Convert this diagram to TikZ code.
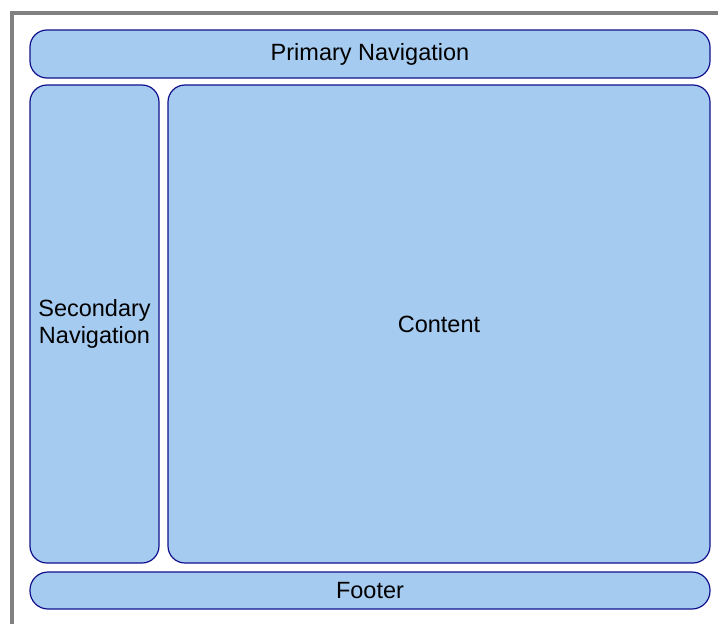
\documentclass[tikz,border=0pt]{standalone}
\usepackage{fontspec}
\setmainfont{Liberation Sans}
\definecolor{panelfill}{RGB}{166,203,240}
\definecolor{paneledge}{RGB}{16,16,140}
\definecolor{framegray}{RGB}{128,128,128}
\begin{document}
\begin{tikzpicture}[x=1pt,y=-1pt,
  panel/.style={draw=paneledge, fill=panelfill, line width=1.2pt,
    rounded corners=17pt, inner sep=0pt, outer sep=0pt,
    font=\fontsize{23.5}{27}\selectfont, align=center, text=black}]
  \useasboundingbox (0,0) rectangle (718,624);
  % page frame, open on the right and bottom
  \draw[framegray, line width=4pt] (12,630) -- (12,13) -- (730,13);
  % layout regions
  \node[panel, minimum width=680pt, minimum height=48pt] (primary) at (370,54) {Primary Navigation};
  \node[panel, minimum width=129pt, minimum height=478pt] (secondary) at (94.5,324) {Secondary\\Navigation};
  \node[panel, minimum width=542pt, minimum height=478pt] (content) at (439,324) {Content};
  \node[panel, minimum width=680pt, minimum height=37pt, rounded corners=18pt] (footer) at (370,590.5) {Footer};
\end{tikzpicture}
\end{document}
